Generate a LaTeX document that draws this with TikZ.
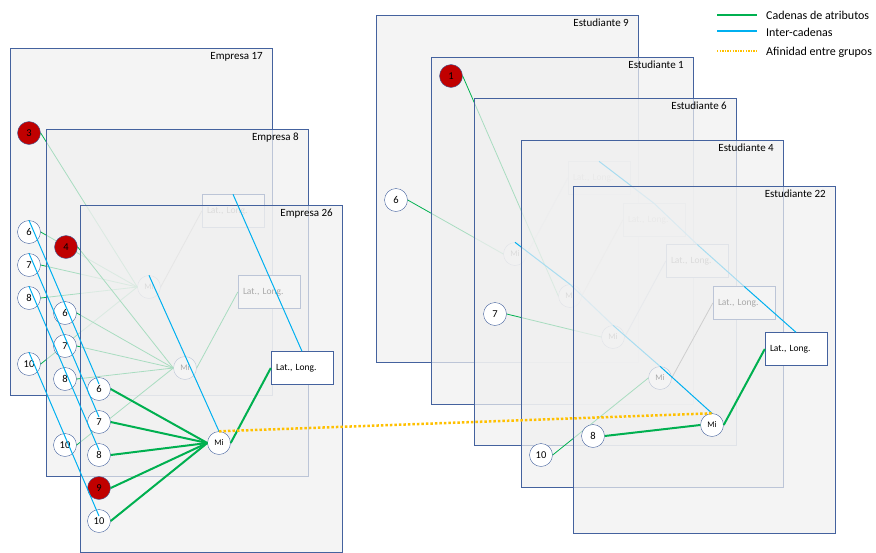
\documentclass[tikz,border=0pt]{standalone}
\usepackage{fontspec}
\setmainfont{Carlito}
\usepackage{tikz}
\usetikzlibrary{calc}

\definecolor{frame}{RGB}{68,98,158}
\definecolor{sheet}{RGB}{240,240,240}
\definecolor{chain}{RGB}{0,176,80}
\definecolor{inter}{RGB}{0,176,240}
\definecolor{affin}{RGB}{255,192,0}
\definecolor{hitred}{RGB}{192,0,0}

\begin{document}
\begin{tikzpicture}[x=1pt,y=-1pt,
    panel/.style={draw=frame,fill=sheet,fill opacity=.7},
    title/.style={anchor=north east,inner sep=0pt,font=\fontsize{11}{13}\selectfont},
    attr/.style={circle,draw=frame,fill=white,minimum size=23pt,inner sep=0pt,font=\fontsize{10.5}{12}\selectfont},
    hit/.style={attr,fill=hitred},
    mi/.style={circle,draw=frame,fill=white,minimum size=23pt,inner sep=0pt,font=\fontsize{8.5}{9}\selectfont},
    latlong/.style={draw=frame,fill=white,minimum width=62pt,minimum height=33pt,inner xsep=5pt,inner ysep=0pt,
        text width=52pt,align=left,font=\fontsize{9.5}{10}\selectfont},
    link/.style={chain,line width=.8pt},
    mainlink/.style={chain,line width=2pt},
    geo/.style={gray,line width=.8pt},
    cross/.style={inter,line width=1pt},
    affinity/.style={affin,line width=2.5pt,dash pattern=on 2.5pt off 2pt},
    legend/.style={anchor=west,inner sep=0pt,font=\fontsize{12}{14}\selectfont}]
    \useasboundingbox (0,0) rectangle (876,552);

    % Empresa 17
    \begin{scope}[shift={(10,48)}]
    \draw[panel] (0,0) rectangle (262,347);
    \node[title] (t17) at (253,4) {Empresa 17};
    \node[mi] (mi17) at (139,239) {Mi};
    \node[latlong] (ll17) at (223,163) {Lat., Long.};
    \node[hit] (e17n3) at (19,85) {3};
    \foreach \n in {6,7,8,10}
        \node[attr] (e17n\n) at (19,{19+33*(\n-1)}) {\n};
    \foreach \n in {3,6,7,8,10}
        \draw[link] (e17n\n.east) -- (mi17.west);
    \draw[geo] (mi17.east) -- (ll17.west);
    \end{scope}

    % Empresa 8
    \begin{scope}[shift={(46,129)}]
    \draw[panel] (0,0) rectangle (262,347);
    \node[title] (t8) at (253,4) {Empresa 8};
    \node[mi] (mi8) at (139,239) {Mi};
    \node[latlong] (ll8) at (223,163) {Lat., Long.};
    \node[hit] (e8n4) at (20,118) {4};
    \foreach \n in {6,7,8,10}
        \node[attr] (e8n\n) at (19,{19+33*(\n-1)}) {\n};
    \foreach \n in {4,6,7,8,10}
        \draw[link] (e8n\n.east) -- (mi8.west);
    \draw[link] (mi8.east) -- (ll8.west);
    \end{scope}

    % Empresa 26
    \begin{scope}[shift={(80,205)}]
    \draw[panel] (0,0) rectangle (262,347);
    \node[title] (t26) at (253,4) {Empresa 26};
    \node[mi] (mi26) at (139,238) {Mi};
    \node[latlong] (ll26) at (222,163) {Lat., Long.};
    \foreach \n in {6,7,8,10}
        \node[attr] (e26n\n) at (19,{19+33*(\n-1)}) {\n};
    \node[hit] (e26n9) at (19,283) {9};
    \foreach \n in {6,7,8,9,10}
        \draw[mainlink] (e26n\n.east) -- (mi26.west);
    \draw[mainlink] (mi26.east) -- (ll26.west);
    \end{scope}

    % Estudiante 9
    \begin{scope}[shift={(376,15)}]
    \draw[panel] (0,0) rectangle (262,347);
    \node[title] (t9) at (253,4) {Estudiante 9};
    \node[mi] (mi9) at (139,239) {Mi};
    \node[latlong] (ll9) at (223,163) {Lat., Long.};
    \node[attr] (s9n6) at (20,185) {6};
    \draw[link] (s9n6.east) -- (mi9.west);
    \draw[frame!60,line width=.8pt] (mi9.east) -- (ll9.west);
    \end{scope}

    % Estudiante 1
    \begin{scope}[shift={(431,57)}]
    \draw[panel] (0,0) rectangle (262,347);
    \node[title] (t1) at (253,4) {Estudiante 1};
    \node[mi] (mi1) at (139,239) {Mi};
    \node[latlong] (ll1) at (223,163) {Lat., Long.};
    \node[hit] (s1n1) at (20,19) {1};
    \draw[link] (s1n1.east) -- (mi1.west);
    \draw[geo] (mi1.east) -- (ll1.west);
    \end{scope}

    % Estudiante 6
    \begin{scope}[shift={(474,98)}]
    \draw[panel] (0,0) rectangle (262,347);
    \node[title] (t6) at (253,4) {Estudiante 6};
    \node[mi] (mi6) at (139,239) {Mi};
    \node[latlong] (ll6) at (223,163) {Lat., Long.};
    \node[attr] (s6n7) at (21,216) {7};
    \draw[link] (s6n7.east) -- (mi6.west);
    \draw[frame!60,line width=.8pt] (mi6.east) -- (ll6.west);
    \end{scope}
    \draw[cross] (mi9.north) -- (mi1.north) -- (mi6.north);
    \draw[cross] (ll9.north) -- (ll1.north) -- (ll6.north);

    % Estudiante 4
    \begin{scope}[shift={(521,140)}]
    \draw[panel] (0,0) rectangle (262,347);
    \node[title] (t4) at (253,4) {Estudiante 4};
    \node[mi] (mi4) at (139,238) {Mi};
    \node[latlong] (ll4) at (223,163) {Lat., Long.};
    \node[attr] (s4n10) at (20,315) {10};
    \draw[link] (s4n10.east) -- (mi4.west);
    \draw[geo] (mi4.east) -- (ll4.west);
    \end{scope}
    \draw[cross] (mi6.north) -- (mi4.north);
    \draw[cross] (ll6.north) -- (ll4.north);

    % Estudiante 22
    \begin{scope}[shift={(573,186)}]
    \draw[panel] (0,0) rectangle (262,347);
    \node[title] (t22) at (253,4) {Estudiante 22};
    \node[mi] (mi22) at (139,239) {Mi};
    \node[latlong] (ll22) at (223,163) {Lat., Long.};
    \node[attr] (s22n8) at (20,250) {8};
    \draw[mainlink] (s22n8.east) -- (mi22.west);
    \draw[mainlink] (mi22.east) -- (ll22.west);
    \end{scope}
    \draw[cross] (mi4.north) -- (mi22.north);
    \draw[cross] (ll4.north) -- (ll22.north);

    % inter-cadenas, Empresas
    \foreach \n in {6,7,8,10}
        \draw[cross] (e17n\n.north) -- ([yshift=5pt]e26n\n.center);
    \draw[cross] (mi17.north) -- (mi26.north);
    \draw[cross] (ll17.north) -- (ll26.north);

    \draw[affinity] (mi26.north) -- (mi22.north);

    % legend
    \node[legend] (lg1) at (766,15) {Cadenas de atributos};
    \node[legend] (lg2) at (766,32) {Inter-cadenas};
    \node[legend] (lg3) at (766,52) {Afinidad entre grupos};
    \draw[mainlink] ([xshift=-49pt]lg1.west) -- ([xshift=-9pt]lg1.west);
    \draw[inter,line width=2pt] ([xshift=-49pt,yshift=1pt]lg2.west) -- ([xshift=-9pt,yshift=1pt]lg2.west);
    \draw[affin,line width=1.3pt,dash pattern=on 1.3pt off 1.3pt] ([xshift=-49pt,yshift=1pt]lg3.west) -- ([xshift=-9pt,yshift=1pt]lg3.west);
\end{tikzpicture}
\end{document}
